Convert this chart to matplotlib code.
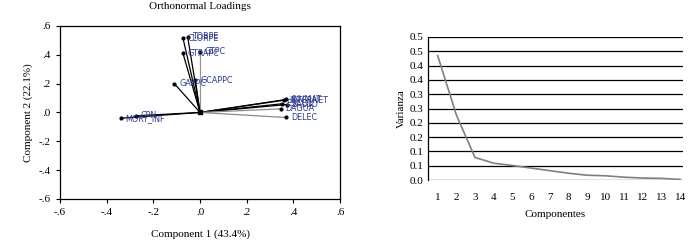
import numpy as np
import matplotlib
matplotlib.use('Agg')
import matplotlib.pyplot as plt

plt.rcParams['font.family'] = 'Liberation Serif'

# loadings (component 1, component 2)
var_names = ['MORT_INF', 'CPN', 'GAPPC', 'GTRAPC', 'CLORPE', 'TOBPE', 'GTPC', 'GCAPPC',
             'INVMAT', 'INTERNET', 'ESCOL', 'SALUD', 'DAGUA', 'DELEC']
pc1 = [-0.34, -0.276, -0.11, -0.073, -0.073, -0.053, 0.0, -0.02,
       0.369, 0.36, 0.35, 0.372, 0.347, 0.369]
pc2 = [-0.04, -0.023, 0.20, 0.41, 0.515, 0.525, 0.42, 0.225,
       0.09, 0.085, 0.06, 0.055, 0.025, -0.035]
line_cols = ['k', 'k', 'k', 'k', 'k', 'k', '0.6', 'k',
             'k', 'k', 'k', 'k', '0.55', '0.55']

# scree plot
componentes = list(range(1, 15))
varianza = [0.435, 0.228, 0.079, 0.059, 0.051, 0.042, 0.033, 0.024,
            0.017, 0.015, 0.010, 0.007, 0.006, 0.002]
yticks = [0.0, 0.05, 0.10, 0.15, 0.20, 0.25, 0.30, 0.35, 0.40, 0.45, 0.50]
ytick_labels = ['0.0', '0.1', '0.1', '0.2', '0.2', '0.3', '0.3', '0.4', '0.4', '0.5', '0.5']

fig = plt.figure(figsize=(6.97, 2.45), dpi=100)

# ---- loadings plot
ax1 = fig.add_axes([0.086, 0.188, 0.402, 0.706])
for i in range(len(var_names)):
    ax1.plot([0, pc1[i]], [0, pc2[i]], color=line_cols[i], lw=0.9, zorder=2)
    ax1.plot(pc1[i], pc2[i], 'o', color='k', ms=2, zorder=3)
    ax1.text(pc1[i] + 0.02, pc2[i], var_names[i], fontsize=5.8, color='#2c3a8c',
             family='DejaVu Sans', va='center', ha='left', zorder=4)
ax1.plot(0, 0, 's', color='k', ms=2.5)
ax1.set_xlim(-0.6, 0.6)
ax1.set_ylim(-0.6, 0.6)
tk = [-0.6, -0.4, -0.2, 0.0, 0.2, 0.4, 0.6]
tl = ['-.6', '-.4', '-.2', '.0', '.2', '.4', '.6']
ax1.set_xticks(tk)
ax1.set_xticklabels(tl)
ax1.set_yticks(tk)
ax1.set_yticklabels(tl)
ax1.tick_params(labelsize=8, length=3, width=0.8, direction='out')
ax1.set_title('Orthonormal Loadings', fontsize=8, pad=12)
ax1.set_xlabel('Component 1 (43.4%)', fontsize=8, labelpad=9)
ax1.set_ylabel('Component 2 (22.1%)', fontsize=8, labelpad=4)
for s in ax1.spines.values():
    s.set_linewidth(0.9)

# ---- scree plot
ax2 = fig.add_axes([0.614, 0.265, 0.366, 0.584])
ax2.plot(componentes, varianza, color='0.5', lw=1.2)
ax2.set_xlim(0.48, 14.15)
ax2.set_ylim(0, 0.5)
ax2.set_yticks(yticks)
ax2.set_yticklabels(ytick_labels)
ax2.set_xticks(componentes)
ax2.grid(axis='y', color='k', lw=0.9)
ax2.set_axisbelow(True)
for s in ['top', 'right', 'bottom']:
    ax2.spines[s].set_visible(False)
ax2.spines['left'].set_linewidth(0.9)
ax2.tick_params(axis='x', length=0, labelsize=8, pad=9)
ax2.tick_params(axis='y', length=0, labelsize=8, pad=3)
ax2.set_xlabel('Componentes', fontsize=8, labelpad=6)
ax2.set_ylabel('Varianza', fontsize=8, labelpad=3)

fig.savefig('out.png', dpi=100)
